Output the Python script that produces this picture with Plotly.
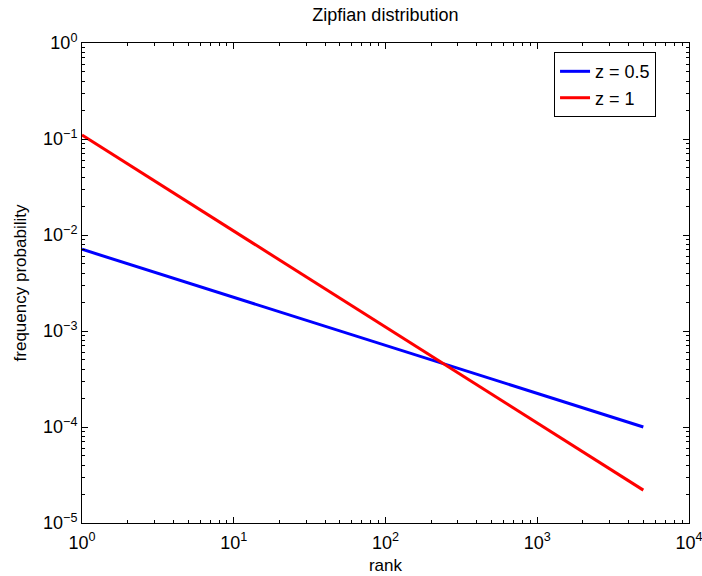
import plotly.graph_objects as go

# Zipf frequency curves: end points of each straight log-log line
rank = [1, 5000]
freq_z05 = [0.0071, 1.0e-4]
freq_z1 = [0.110, 2.2e-5]

x_exps = [0, 1, 2, 3, 4]
y_exps = [-5, -4, -3, -2, -1, 0]


def pow_label(p):
    sign = "\u2212" if p < 0 else ""
    return f"10<sup>{sign}{abs(p)}</sup>"


def minor_vals(lo, hi):
    vals = []
    for e in range(lo, hi):
        for m in range(2, 10):
            vals.append(m * 10 ** e)
    return vals


FAMILY = "Liberation Sans, Arial, Helvetica, sans-serif"
font = dict(family=FAMILY, color="black")

fig = go.Figure()
fig.add_trace(go.Scatter(x=rank, y=freq_z05, mode="lines", name="z = 0.5",
                         line=dict(color="#0000ff", width=3)))
fig.add_trace(go.Scatter(x=rank, y=freq_z1, mode="lines", name="z = 1",
                         line=dict(color="#ff0000", width=3)))

axis_common = dict(
    type="log", showgrid=False, zeroline=False, automargin=False,
    showline=True, linecolor="black", linewidth=1, mirror="ticks",
    ticks="inside", ticklen=6, tickcolor="black", tickwidth=1,
    tickfont=dict(size=18, **font), ticklabeloverflow="allow",
)

fig.update_xaxes(
    **axis_common,
    range=[0, 4],
    tickvals=[10 ** p for p in x_exps],
    ticktext=[pow_label(p) for p in x_exps],
    ticklabelstandoff=3,
    minor=dict(ticks="inside", ticklen=3, tickcolor="black",
               tickvals=minor_vals(0, 4)),
    title=dict(text="rank", font=dict(size=17, **font), standoff=7),
)
fig.update_yaxes(
    **axis_common,
    range=[-5, 0],
    tickvals=[10.0 ** p for p in y_exps],
    ticktext=[pow_label(p) for p in y_exps],
    minor=dict(ticks="inside", ticklen=3, tickcolor="black",
               tickvals=minor_vals(-5, 0)),
    title=dict(text="frequency probability", font=dict(size=17, **font), standoff=12),
)

fig.update_layout(
    width=702, height=576,
    margin=dict(l=82, r=13, t=43, b=53),
    paper_bgcolor="white", plot_bgcolor="white",
    font=dict(family=FAMILY, color="black"),
    title=dict(text="Zipfian distribution", x=0.549, xanchor="center",
               y=0.975, yanchor="middle", font=dict(size=18, **font)),
    legend=dict(x=0.9457, xanchor="right", y=0.981, yanchor="top",
                bordercolor="black", borderwidth=1, bgcolor="white",
                font=dict(size=18, **font), tracegroupgap=0),
    showlegend=True,
)

fig.write_html("out.html")
